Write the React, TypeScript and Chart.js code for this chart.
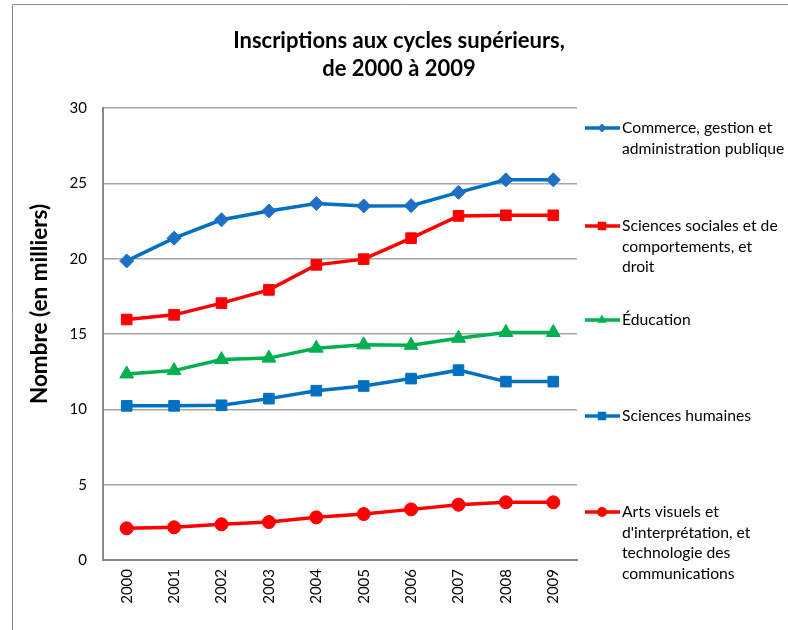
import React, { useEffect, useRef } from "react";
import { Chart, registerables } from "chart.js";

Chart.register(...registerables);

const years = ["2000", "2001", "2002", "2003", "2004", "2005", "2006", "2007", "2008", "2009"];
const commerce = [19.85, 21.36, 22.58, 23.17, 23.66, 23.5, 23.52, 24.4, 25.23, 25.23];
const sociales = [15.96, 16.27, 17.05, 17.93, 19.59, 19.97, 21.36, 22.84, 22.88, 22.88];
const education = [12.35, 12.57, 13.3, 13.4, 14.06, 14.28, 14.25, 14.72, 15.1, 15.1];
const humaines = [10.23, 10.23, 10.27, 10.71, 11.24, 11.55, 12.04, 12.6, 11.84, 11.84];
const arts = [2.1, 2.17, 2.37, 2.52, 2.83, 3.05, 3.36, 3.67, 3.83, 3.83];

const seriesNames = [
  ["Commerce, gestion et", "administration publique"],
  ["Sciences sociales et de", "comportements, et", "droit"],
  ["Éducation"],
  ["Sciences humaines"],
  ["Arts visuels et", "d'interprétation, et", "technologie des", "communications"],
];
const yTicks = [0, 5, 10, 15, 20, 25, 30];
const titleLines = ["Inscriptions aux cycles supérieurs,", "de 2000 à 2009"];
const yTitle = "Nombre (en milliers)";

const FONT = "Lato, 'Open Sans', sans-serif";

const styles = [
  { color: "#0070C0", fill: "#1F70C4", point: "rectRot", r: 7, lr: 4.5 },
  { color: "#FF0000", fill: "#FF0000", point: "rect", r: 7.5, lr: 6 },
  { color: "#00B050", fill: "#00B050", point: "triangle", r: 8, lr: 5.5 },
  { color: "#0070C0", fill: "#0070C0", point: "rect", r: 7.5, lr: 6 },
  { color: "#FF0000", fill: "#FF0000", point: "circle", r: 6.5, lr: 5 },
];
const legendY = [128, 226, 320, 416, 512];

export default function App() {
  const ref = useRef<HTMLCanvasElement>(null);
  useEffect(() => {
    const data = [commerce, sociales, education, humaines, arts];
    const decor = {
      id: "decor",
      beforeDraw(chart: any) {
        const ctx = chart.ctx;
        ctx.save();
        ctx.fillStyle = "#fff";
        ctx.fillRect(0, 0, chart.width, chart.height);
        ctx.strokeStyle = "#8C8C8C";
        ctx.lineWidth = 1;
        ctx.beginPath();
        ctx.moveTo(12.5, 640);
        ctx.lineTo(12.5, 4.5);
        ctx.lineTo(800, 4.5);
        ctx.stroke();
        ctx.restore();
      },
      afterDraw(chart: any) {
        const ctx = chart.ctx;
        ctx.save();
        ctx.fillStyle = "#000";
        ctx.textAlign = "center";
        ctx.textBaseline = "middle";
        ctx.font = `bold 22px ${FONT}`;
        ctx.fillText(titleLines[0], 399, 41);
        ctx.fillText(titleLines[1], 399, 69);
        ctx.save();
        ctx.translate(40, 304);
        ctx.rotate(-Math.PI / 2);
        ctx.font = `bold 22.5px ${FONT}`;
        ctx.fillText(yTitle, 0, 0);
        ctx.restore();
        // legend
        ctx.textAlign = "left";
        ctx.font = `15.7px ${FONT}`;
        seriesNames.forEach((lines, i) => {
          const st = styles[i];
          const y = legendY[i];
          ctx.strokeStyle = st.color;
          ctx.lineWidth = 3.5;
          ctx.beginPath();
          ctx.moveTo(585, y);
          ctx.lineTo(620, y);
          ctx.stroke();
          ctx.fillStyle = st.fill;
          drawMarker(ctx, st.point, st.lr, 602, y);
          ctx.fillStyle = "#000";
          lines.forEach((t, k) => ctx.fillText(t, 622, y + k * 20.5));
        });
        ctx.restore();
      },
    };
    const chart = new Chart(ref.current!, {
      type: "line",
      data: {
        labels: years,
        datasets: data.map((d, i) => ({
          label: seriesNames[i].join(" "),
          data: d,
          borderColor: styles[i].color,
          backgroundColor: styles[i].fill,
          pointBackgroundColor: styles[i].fill,
          pointBorderColor: styles[i].fill,
          pointBorderWidth: 1,
          pointStyle: styles[i].point as any,
          pointRadius: styles[i].r,
          borderWidth: 3.5,
          tension: 0,
        })),
      },
      options: {
        responsive: false,
        animation: false,
        layout: { padding: { left: 0, top: 108, right: 211, bottom: 0 } },
        plugins: { legend: { display: false }, tooltip: { enabled: false }, title: { display: false } },
        scales: {
          x: {
            offset: true,
            grid: { display: false, drawTicks: false },
            border: { display: true, color: "#888888", width: 2 },
            ticks: {
              minRotation: 90,
              maxRotation: 90,
              padding: 9,
              color: "#000",
              font: { family: FONT, size: 15 },
            },
            afterFit: (s: any) => {
              s.height = 70;
            },
          },
          y: {
            min: 0,
            max: 30,
            afterBuildTicks: (s: any) => {
              s.ticks = yTicks.map((v) => ({ value: v }));
            },
            grid: { color: "#A6A6A6", lineWidth: 1.5, drawTicks: false },
            border: { display: true, color: "#888888", width: 2 },
            ticks: {
              padding: 16,
              color: "#000",
              font: { family: FONT, size: 15 },
            },
            afterFit: (s: any) => {
              s.width = 103;
            },
          },
        },
      },
      plugins: [decor],
    });
    return () => chart.destroy();
  }, []);
  return (
    <div style={{ position: "absolute", left: 0, top: 0, width: 788, height: 630 }}>
      <canvas ref={ref} width={788} height={630} style={{ display: "block" }} />
    </div>
  );
}

function drawMarker(ctx: CanvasRenderingContext2D, style: string, r: number, x: number, y: number) {
  ctx.beginPath();
  if (style === "circle") {
    ctx.arc(x, y, r, 0, Math.PI * 2);
  } else if (style === "rect") {
    const s = r * Math.SQRT1_2;
    ctx.rect(x - s, y - s, 2 * s, 2 * s);
  } else if (style === "rectRot") {
    ctx.moveTo(x, y - r);
    ctx.lineTo(x + r, y);
    ctx.lineTo(x, y + r);
    ctx.lineTo(x - r, y);
    ctx.closePath();
  } else if (style === "triangle") {
    const w = (r * Math.sqrt(3)) / 2;
    ctx.moveTo(x, y - r);
    ctx.lineTo(x + w, y + r / 2);
    ctx.lineTo(x - w, y + r / 2);
    ctx.closePath();
  }
  ctx.fill();
}
